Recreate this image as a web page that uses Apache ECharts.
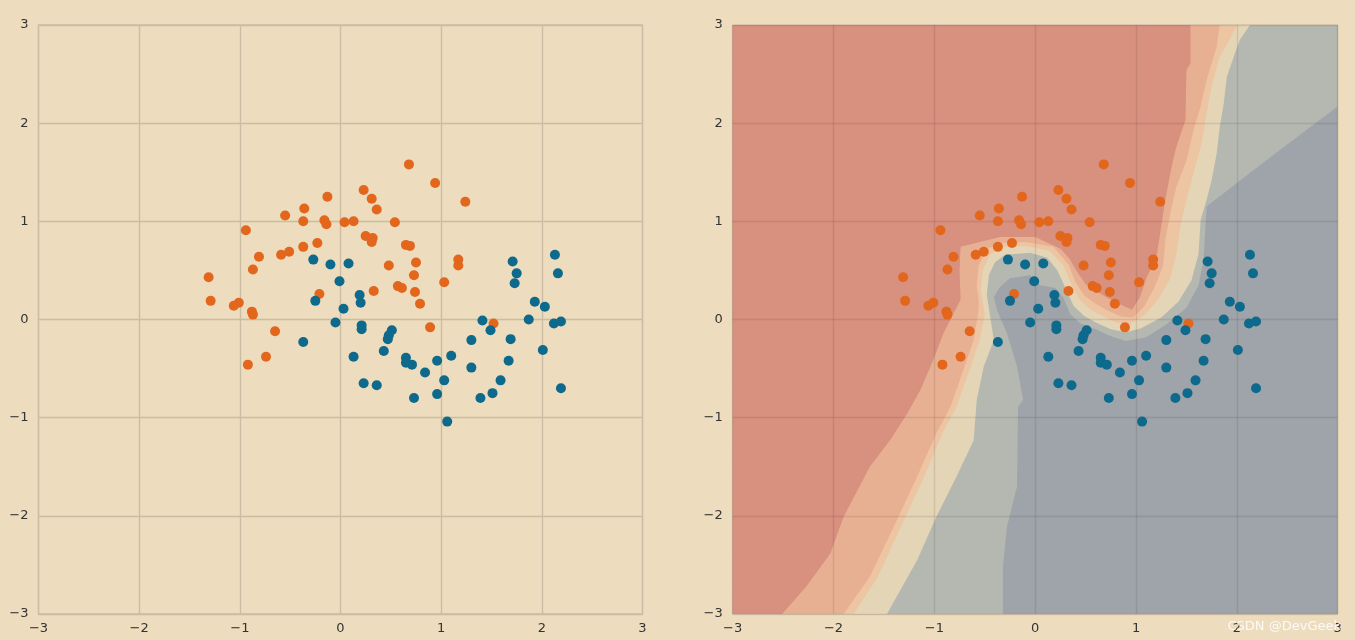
<!DOCTYPE html>
<html><head><meta charset="utf-8">
<script src="https://cdn.jsdelivr.net/npm/echarts@6/dist/echarts.min.js"></script>
<style>html,body{margin:0;padding:0;background:#eddcbd;}#c{width:1355px;height:640px;}</style>
</head><body><div id="c"></div>
<script>
const ticks = [-3, -2, -1, 0, 1, 2, 3];
const class0 = [
[-0.13,1.25],[-0.36,1.13],[-0.55,1.06],[-0.37,1.00],[-0.16,1.01],[-0.14,0.97],[0.04,0.99],[-0.94,0.91],
[-0.23,0.78],[-0.37,0.74],[-0.51,0.69],[-0.59,0.66],[-0.81,0.64],[-0.87,0.51],[-1.31,0.43],[-1.29,0.19],
[-1.06,0.14],[-1.01,0.17],[-0.88,0.08],[-0.87,0.05],[-0.21,0.26],[-0.65,-0.12],[-0.74,-0.38],[-0.92,-0.46],
[0.68,1.58],[0.94,1.39],[1.24,1.20],[0.23,1.32],[0.31,1.23],[0.36,1.12],[0.13,1.00],[0.54,0.99],
[0.25,0.85],[0.32,0.83],[0.31,0.79],[0.65,0.76],[0.69,0.75],[0.75,0.58],[0.48,0.55],[0.73,0.45],
[1.17,0.61],[1.17,0.55],[1.03,0.38],[0.33,0.29],[0.57,0.34],[0.61,0.32],[0.74,0.28],[0.79,0.16],
[0.89,-0.08],[1.52,-0.04]
];
const class1 = [
[-0.27,0.61],[-0.10,0.56],[0.08,0.57],[-0.01,0.39],[-0.25,0.19],[0.03,0.11],[-0.05,-0.03],[-0.37,-0.23],
[0.19,0.25],[0.20,0.17],[0.21,-0.06],[0.21,-0.10],[0.51,-0.11],[0.48,-0.16],[0.47,-0.20],[0.43,-0.32],
[0.13,-0.38],[0.65,-0.39],[0.65,-0.44],[0.71,-0.46],[0.84,-0.54],[0.96,-0.42],[1.10,-0.37],[1.30,-0.49],
[1.41,-0.01],[1.49,-0.11],[1.30,-0.21],[1.03,-0.62],[0.23,-0.65],[0.36,-0.67],[1.59,-0.62],[1.71,0.59],
[1.75,0.47],[1.73,0.37],[2.13,0.66],[2.16,0.47],[1.93,0.18],[2.03,0.13],[1.87,0.00],[2.12,-0.04],
[2.19,-0.02],[1.69,-0.20],[2.01,-0.31],[1.67,-0.42],[1.51,-0.75],[1.39,-0.80],[2.19,-0.70],[0.96,-0.76],
[0.73,-0.80],[1.06,-1.04]
];
// decision-region boundaries (superlevel sets)
const regionBase = [[-3,3],[3,3],[3,-3],[-3,-3]];
const regionLight = [[-3,3],[3,3],[3,2.17],[2.69,1.93],[2.43,1.73],[2.0,1.39],[1.70,1.15],[1.67,0.61],[1.62,0.35],
[1.50,0.12],[1.30,-0.05],[1.10,-0.18],[0.90,-0.22],[0.75,-0.17],[0.60,-0.10],[0.45,-0.04],[0.35,0.05],[0.28,0.22],
[0.20,0.32],[0.05,0.35],[-0.05,0.45],[-0.25,0.42],[-0.35,0.33],[-0.41,0.23],[-0.38,0.10],[-0.28,-0.14],
[-0.18,-0.48],[-0.12,-0.82],[-0.17,-0.89],[-0.18,-1.70],[-0.28,-2.11],[-0.32,-2.52],[-0.32,-3],[-3,-3]];
const regionBeige = [[-3,3],[2.13,3],[2.03,2.85],[1.97,2.68],[1.90,2.47],[1.87,2.20],[1.83,1.96],[1.80,1.69],
[1.75,1.42],[1.70,1.22],[1.64,1.01],[1.62,0.67],[1.55,0.40],[1.42,0.18],[1.25,0.02],[1.05,-0.09],[0.90,-0.13],
[0.75,-0.10],[0.60,-0.03],[0.48,0.04],[0.38,0.14],[0.30,0.32],[0.22,0.50],[0.12,0.63],[-0.05,0.68],[-0.30,0.66],
[-0.40,0.58],[-0.46,0.45],[-0.48,0.25],[-0.45,0.05],[-0.41,-0.21],[-0.51,-0.48],[-0.58,-0.82],[-0.61,-1.23],
[-0.78,-1.60],[-0.98,-2.01],[-1.17,-2.45],[-1.47,-3],[-3,-3]];
const regionPeach = [[-3,3],[2.0,3],[1.93,2.85],[1.83,2.68],[1.75,2.37],[1.70,2.10],[1.65,1.79],[1.57,1.49],
[1.50,1.22],[1.44,0.95],[1.40,0.67],[1.34,0.42],[1.22,0.20],[1.08,0.04],[0.93,-0.05],[0.80,-0.03],[0.68,0.03],
[0.55,0.10],[0.44,0.20],[0.36,0.36],[0.28,0.55],[0.14,0.70],[-0.10,0.75],[-0.32,0.74],[-0.45,0.66],[-0.52,0.50],
[-0.54,0.30],[-0.50,0.05],[-0.55,-0.21],[-0.65,-0.51],[-0.78,-0.89],[-0.92,-1.16],[-1.10,-1.60],[-1.30,-2.04],
[-1.56,-2.62],[-1.80,-3],[-3,-3]];
const regionSalmon = [[-3,3],[1.83,3],[1.80,2.78],[1.70,2.44],[1.64,2.17],[1.57,1.93],[1.50,1.62],[1.40,1.35],
[1.34,1.08],[1.29,0.81],[1.27,0.55],[1.18,0.32],[1.08,0.13],[0.97,0.02],[0.85,0.03],[0.72,0.09],[0.60,0.16],
[0.49,0.24],[0.40,0.38],[0.33,0.56],[0.18,0.74],[-0.10,0.79],[-0.32,0.78],[-0.48,0.72],[-0.56,0.55],
[-0.58,0.35],[-0.56,0.20],[-0.56,0.10],[-0.61,-0.21],[-0.71,-0.51],[-0.84,-0.89],[-0.98,-1.16],[-1.17,-1.60],
[-1.37,-2.04],[-1.64,-2.62],[-1.90,-3],[-3,-3]];
const regionRed = [[-3,3],[1.54,3],[1.54,2.61],[1.50,2.54],[1.49,2.03],[1.40,1.76],[1.36,1.59],[1.29,1.22],
[1.24,0.88],[1.20,0.62],[1.11,0.44],[1.04,0.23],[0.96,0.10],[0.85,0.15],[0.72,0.22],[0.62,0.28],[0.50,0.36],
[0.42,0.48],[0.34,0.62],[0.25,0.72],[0.0,0.84],[-0.35,0.84],[-0.74,0.74],[-0.75,0.50],[-0.74,0.20],[-0.81,0.06],
[-0.91,-0.14],[-1.01,-0.41],[-1.14,-0.72],[-1.27,-0.96],[-1.44,-1.23],[-1.64,-1.50],[-1.90,-2.01],
[-2.03,-2.38],[-2.27,-2.72],[-2.51,-3],[-3,-3]];
const regions = [regionBase, regionLight, regionBeige, regionPeach, regionSalmon, regionRed];
const regionColors = ['#9ea4a9', '#b4b8b1', '#e4d5b7', '#edc5a3', '#e8b092', '#d8907f'];

const ORANGE = '#e3661d', TEAL = '#0e6a8c';
const fmt = v => (v < 0 ? '\u2212' + Math.abs(v) : String(v));
function mkAxis(gi, isX, overlay) {
  return {
    type: 'value', gridIndex: gi, min: -3, max: 3, interval: 1, z: overlay ? 3 : 0,
    axisLine: { show: false }, axisTick: { show: false },
    axisLabel: { color: '#333', fontSize: 13, fontFamily: 'DejaVu Sans', margin: isX ? 8 : 10, formatter: fmt },
    splitLine: { show: true, lineStyle: { color: overlay ? 'rgba(70,50,50,0.13)' : '#cbbca4', width: 1.3 } }
  };
}
const chart = echarts.init(document.getElementById('c'), null, { renderer: 'canvas' });
chart.setOption({
  backgroundColor: '#eddcbd',
  animation: false,
  grid: [
    { left: 38.5, top: 25, width: 604, height: 589, show: true, borderColor: '#cbbca4', borderWidth: 1.3, backgroundColor: 'transparent' },
    { left: 732.7, top: 25, width: 605, height: 589, show: true, borderColor: 'rgba(70,50,50,0.2)', borderWidth: 1, backgroundColor: 'transparent' }
  ],
  xAxis: [mkAxis(0, true, false), mkAxis(1, true, true)],
  yAxis: [mkAxis(0, false, false), mkAxis(1, false, true)],
  graphic: [{ type: 'text', right: 14, bottom: 7, z: 100,
    style: { text: 'CSDN @DevGeek', fill: 'rgba(255,255,255,0.85)', font: '13px "DejaVu Sans"' } }],
  series: [
    { type: 'scatter', xAxisIndex: 0, yAxisIndex: 0, data: class0, symbolSize: 10, itemStyle: { color: ORANGE, opacity: 1 }, z: 5 },
    { type: 'scatter', xAxisIndex: 0, yAxisIndex: 0, data: class1, symbolSize: 10, itemStyle: { color: TEAL, opacity: 1 }, z: 5 },
    { type: 'custom', xAxisIndex: 1, yAxisIndex: 1, z: 1, silent: true,
      data: regions.map((r, i) => [i]),
      renderItem: function (params, api) {
        const i = api.value(0);
        const pts = regions[i].map(p => api.coord(p));
        return { type: 'polygon', shape: { points: pts }, style: { fill: regionColors[i], stroke: null } };
      }
    },
    { type: 'scatter', xAxisIndex: 1, yAxisIndex: 1, data: class0, symbolSize: 10, itemStyle: { color: ORANGE, opacity: 1 }, z: 5 },
    { type: 'scatter', xAxisIndex: 1, yAxisIndex: 1, data: class1, symbolSize: 10, itemStyle: { color: TEAL, opacity: 1 }, z: 5 }
  ]
});
</script></body></html>
